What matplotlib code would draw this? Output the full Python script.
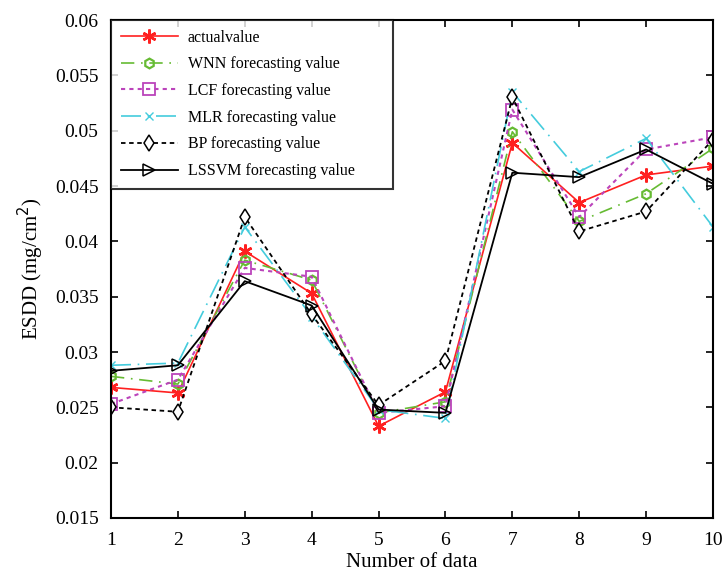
import matplotlib.pyplot as plt

# data
samples = [1, 2, 3, 4, 5, 6, 7, 8, 9, 10]
actual = [0.0268, 0.0263, 0.0391, 0.0353, 0.0233, 0.0264, 0.0489, 0.0435, 0.0460, 0.0468]
wnn = [0.0278, 0.0271, 0.0383, 0.0365, 0.0245, 0.0255, 0.0499, 0.0418, 0.0443, 0.0484]
lcf = [0.0253, 0.0275, 0.0376, 0.0368, 0.0245, 0.0251, 0.0519, 0.0422, 0.0483, 0.0494]
mlr = [0.0288, 0.0290, 0.0413, 0.0332, 0.0248, 0.0240, 0.0535, 0.0463, 0.0493, 0.0413]
bp = [0.0250, 0.0246, 0.0422, 0.0334, 0.0252, 0.0292, 0.0530, 0.0409, 0.0427, 0.0492]
lssvm = [0.0283, 0.0288, 0.0364, 0.0342, 0.0248, 0.0245, 0.0462, 0.0458, 0.0483, 0.0452]

plt.rcParams['font.family'] = 'Liberation Serif'

fig = plt.figure(figsize=(7.23, 5.73), dpi=100)
ax = fig.add_axes([111/723, 1 - 518/573, (713-111)/723, (518-20)/573])

# asterisk marker like matlab '*'
ax.plot(samples, actual, color='#ff2020', linestyle='-', marker=(6, 2, 0), markersize=10,
        markeredgewidth=1.8, linewidth=1.2, label='actualvalue')
ax.plot(samples, wnn, color='#66bb33', linestyle=(0, (8, 4, 1, 4)), marker='h', markersize=7,
        markerfacecolor='none', markeredgewidth=1.6, linewidth=1.2, label='WNN forecasting value')
ax.plot(samples, lcf, color='#bb44bb', linestyle=(0, (2, 2)), marker='s', markersize=8,
        markerfacecolor='none', markeredgewidth=1.3, linewidth=1.5, label='LCF forecasting value')
ax.plot(samples, mlr, color='#44ccdd', linestyle=(0, (12, 4, 1, 4)), marker='x', markersize=6,
        linewidth=1.2, label='MLR forecasting value')
ax.plot(samples, bp, color='black', linestyle=(0, (2.5, 2)), marker='d', markersize=8,
        markerfacecolor='white', markeredgewidth=1.1, linewidth=1.3, label='BP forecasting value')
ax.plot(samples, lssvm, color='black', linestyle='-', marker='>', markersize=9,
        markerfacecolor='none', markeredgewidth=1.1, linewidth=1.3, label='LSSVM forecasting value')

ax.set_xlim(1, 10)
ax.set_ylim(0.015, 0.06)
ax.set_xticks(samples)
ax.set_yticks([0.015, 0.02, 0.025, 0.03, 0.035, 0.04, 0.045, 0.05, 0.055, 0.06])
ax.set_yticklabels(['0.015', '0.02', '0.025', '0.03', '0.035', '0.04', '0.045', '0.05', '0.055', '0.06'])
ax.tick_params(direction='in', top=True, right=True, labelsize=14, length=5, width=1.2)
ax.tick_params(axis='y', pad=9)
ax.tick_params(axis='x', pad=10)
for s in ax.spines.values():
    s.set_linewidth(1.5)

ax.set_xlabel('Number of data', fontsize=15, labelpad=3)
ax.set_ylabel('ESDD (mg/cm$^2$)', fontsize=15, labelpad=6)

# legend box is wider than its text in the reference
leg = ax.legend(loc='upper left', bbox_to_anchor=(0, 0, (393-111)/602, 1), mode='expand',
                fontsize=11.5, frameon=True, fancybox=False,
                edgecolor='black', borderaxespad=0, handlelength=3.6,
                labelspacing=0.67, borderpad=0.6, handletextpad=0.6)
leg.get_frame().set_linewidth(1.5)

fig.savefig('out.png', dpi=100)
